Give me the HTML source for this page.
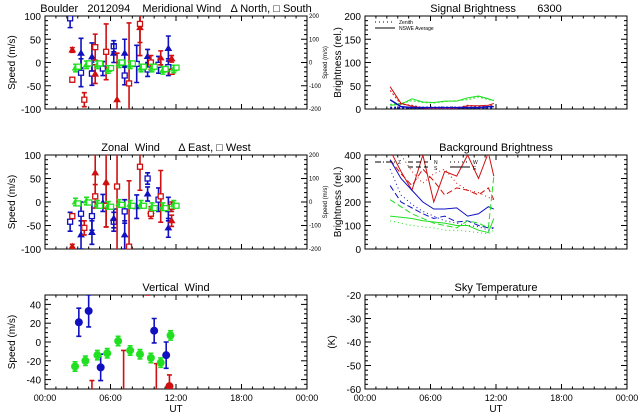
<!DOCTYPE html>
<html><head><meta charset="utf-8">
<style>
html,body{margin:0;padding:0;background:#fff;width:640px;height:420px;overflow:hidden;}
svg{display:block;font-family:"Liberation Sans",sans-serif;}
text{fill:#000;white-space:pre;}
</style></head>
<body>
<svg id="c" width="640" height="420" viewBox="0 0 640 420"></svg>
<script>
// ---------- data ----------
const merBlueT=[2.3,3.3,3.3,4.3,4.3,5.3,6.3,6.3,7.3,7.3,8.4,9.4,9.4,10.4,11.3,11.3];
const merBlueV=[95,20,-22,12,-24,-13,35,20,20,-28,-3,13,-15,-5,30,-10];
const merBlueE=[20,32,30,30,25,15,12,20,30,20,40,15,15,18,27,18];
const merBlueS=['s','t','s','t','s','s','s','t','t','s','s','t','s','s','t','s'];
const merRedT=[2.5,2.5,3.6,4.6,4.6,5.6,6.6,7.7,8.7,8.7,9.7,10.6,11.6,11.6];
const merRedV=[27,-37,-80,33,-25,23,-80,-45,75,83,0,10,8,-20];
const merRedE=[5,5,15,28,20,60,100,130,60,40,15,15,7,5];
const merRedS=['t','s','s','s','t','s','t','s','t','s','s','t','t','s'];
const merGreenT=[2.8,3.8,4.8,5.8,6.8,7.8,8.8,9.8,10.8,11.8];
const merGreenV=[-12,-5,-5,-15,-3,-5,-12,-12,-17,-14];

const zonBlueT=[2.3,3.3,3.3,4.3,4.3,5.3,6.3,6.3,7.3,7.3,8.4,9.4,9.4,10.4,11.3,11.3];
const zonBlueV=[-42,-25,-70,-30,-65,-2,-42,-35,-20,-70,-10,50,17,5,-15,-55];
const zonBlueE=[20,25,30,30,25,18,20,20,25,30,25,12,15,25,25,20];
const zonBlueS=['s','s','t','s','t','t','s','t','s','t','t','s','t','s','s','t'];
const zonRedT=[2.5,2.5,3.6,4.6,4.6,5.6,5.6,6.6,7.7,8.7,9.7,9.7,10.6,11.6,11.6];
const zonRedV=[-95,-30,-55,62,12,42,-8,33,-95,75,-20,-25,12,-40,-10];
const zonRedE=[5,5,15,50,25,95,45,140,140,50,10,10,55,12,10];
const zonRedS=['t','s','s','t','s','t','s','s','s','s','t','s','s','t','s'];
const zonGreenT=[2.8,3.8,4.8,5.8,6.8,7.8,8.8,9.8,10.8,11.8];
const zonGreenV=[0,2,-5,-7,-3,-5,-5,-10,-10,-5];

const vertBlueT=[3.1,4.0,5.1,10.0,11.1];
const vertBlueV=[21,33,-27,12,-14];
const vertBlueE=[15,17,14,13,14];
const vertGreenT=[2.75,3.7,4.8,5.7,6.7,7.8,8.7,9.7,10.6,11.5];
const vertGreenV=[-26,-20,-14,-12,1,-9,-13,-17,-22,7];
const vertRedT=[4.3,7.2,9.4,10.2,11.4];
const vertRedV=[-70,-60,70,-60,-47];
const vertRedE=[29,51,20,37,12];

const sigT=[2.3,3.3,4.3,5.3,6.3,7.3,8.4,9.4,10.4,11.3,11.8];
const sigRed=[48,12,6,2,0,0,1,7,7,8,12];
const sigRed2=[40,10,8,3,1,0,2,8,6,5,10];
const sigGreen=[8,10,22,15,14,17,17,24,28,22,18];
const sigGreen2=[10,12,18,14,13,16,18,20,26,20,19];
const sigBlue=[20,5,3,3,3,3,3,3,3,5,5];
const sigBlue2=[3,3,3,3,3,3,3,3,3,3,3];

const bgT=[2.3,3.3,4.3,5.3,6.3,7.3,8.4,9.4,10.4,11.3,11.8];
const bgRed1=[420,330,250,400,200,330,310,400,300,410,310];
const bgRed2=[380,320,270,340,290,230,260,250,230,260,210];
const bgRed3=[420,400,330,280,320,340,280,250,240,220,210];
const bgBlue1=[380,300,250,200,170,170,175,140,150,180,170];
const bgBlue2=[270,200,175,150,130,140,115,120,100,90,90];
const bgBlue3=[340,230,190,160,140,120,110,100,95,80,90];
const bgGreen1=[140,135,130,120,115,110,100,100,80,70,130];
const bgGreen2=[210,180,150,130,110,100,90,120,110,90,310];
const bgGreen3=[120,110,100,95,90,80,80,75,70,65,80];

// ---------- helpers ----------
const svg=document.getElementById('c');
const NS='http://www.w3.org/2000/svg';
function mk(tag,attrs,parent){const e=document.createElementNS(NS,tag);for(const k in attrs)e.setAttribute(k,attrs[k]);(parent||svg).appendChild(e);return e;}
function txt(x,y,s,size,anchor,parent,rot){const t=mk('text',{x:x,y:y,'font-size':size,'text-anchor':anchor||'middle'},parent);t.setAttributeNS('http://www.w3.org/XML/1998/namespace','xml:space','preserve');if(rot)t.setAttribute('transform','rotate(-90 '+x+' '+y+')');t.textContent=s;return t;}

let clipId=0;
function panel(o){
  const g=mk('g',{});
  
  
  const {x0,x1,y0,y1,ymin,ymax}=o;
  const X=h=>x0+h/24*(x1-x0);
  const Y=v=>y1-(v-ymin)/(ymax-ymin)*(y1-y0);
  const fr=mk('rect',{x:x0,y:y0,width:x1-x0,height:y1-y0,fill:'none',stroke:'#000','stroke-width':1},g);
  
  
  for(let h=0;h<=24;h++){const major=h%6===0;const L=major?5:2.5;
    mk('line',{x1:X(h),x2:X(h),y1:y1,y2:y1-L,stroke:'#000'},g);
    mk('line',{x1:X(h),x2:X(h),y1:y0,y2:y0+L,stroke:'#000'},g);}
  const step=o.ystep;const minor=step/o.yminor;const ys=(o.ystart!==undefined)?o.ystart:ymin;
  let vm=ys;while(vm-minor>=ymin-1e-9)vm-=minor;
  for(let v=vm;v<=ymax+1e-9;v+=minor){const r=(v-ys)/step;const major=Math.abs(r-Math.round(r))<1e-6;const L=major?6:3;
    mk('line',{x1:x0,x2:x0+L,y1:Y(v),y2:Y(v),stroke:'#000'},g);
    mk('line',{x1:x1,x2:x1-L,y1:Y(v),y2:Y(v),stroke:'#000'},g);}
  for(let v=ys;v<=ymax+1e-9;v+=step){const t=txt(x0-4,Y(v)+4,String(Math.round(v)),10,'end',g);
    }
  if(o.xlabels){['00:00','06:00','12:00','18:00','00:00'].forEach((s,i)=>{const t=txt(X(i*6),y1+12,s,9,'middle',g);
    });
    const u=txt((x0+x1)/2,y1+23,'UT',10,'middle',g);}
  const tt=txt(o.titleX||(x0+x1)/2,y0-4,o.title,11,'middle',g);
  
  const yt=txt(x0-(o.ytoff||30),(y0+y1)/2,o.ytitle,10,'middle',g,true);
  
  if(o.right){o.right.forEach((s,i)=>{const t=txt(x1+2,Y(ymax-i*(ymax-ymin)/4)+2,s,6,'start',g);
      });
    const rt=txt(x1+20,(y0+y1)/2,'Speed (m/s)',6,'middle',g,true);
    }
  clipId++;
  const cp=mk('clipPath',{id:'cp'+clipId},g);
  mk('rect',{x:x0,y:y0,width:x1-x0,height:y1-y0},cp);
  const d=mk('g',{'clip-path':'url(#cp'+clipId+')'},g);
  return {X,Y,d,ymin,ymax};
}
function errbar(p,t,v,e,col,name){
  const lo=Math.max(p.ymin,v-e),hi=Math.min(p.ymax,v+e);
  if(lo>hi)return;
  let d=`M${p.X(t)},${p.Y(lo)}V${p.Y(hi)}`;
  if(v-e>=p.ymin)d+=`M${p.X(t)-2.5},${p.Y(lo)}h5`;
  if(v+e<=p.ymax)d+=`M${p.X(t)-2.5},${p.Y(hi)}h5`;
  const l=mk('path',{d:d,stroke:col,'stroke-width':1.6,fill:'none'},p.d);
  
}
function sym(p,t,v,s,col,name){
  if(v<p.ymin||v>p.ymax)return;
  const x=p.X(t),y=p.Y(v);let e;
  if(s==='s')e=mk('rect',{x:x-2.5,y:y-2.5,width:5,height:5,fill:'#fff',stroke:col,'stroke-width':1.3},p.d);
  else if(s==='t')e=mk('path',{d:`M${x},${y-3}L${x+3},${y+2}L${x-3},${y+2}Z`,fill:col,stroke:col},p.d);
  else e=mk('circle',{cx:x,cy:y,r:s,fill:col},p.d);
  
}
function line(p,T,V,col,dash,name,w){
  const d=T.map((t,i)=>(i?'L':'M')+p.X(t)+','+p.Y(V[i])).join('');
  const l=mk('path',{d:d,stroke:col,fill:'none','stroke-width':w||1,'stroke-dasharray':dash||'none'},p.d);
  
}
const B='#1010c0',R='#d01010',G='#20e020';

let p=panel({name:'meridional-wind-panel',x0:45,x1:307,y0:16,y1:109,ymin:-100,ymax:100,ystep:50,yminor:5,
  title:'Boulder   2012094    Meridional Wind   \u0394 North, \u25A1 South',titleX:176,ytitle:'Speed (m/s)',right:['200','100','0','-100','-200']});
merBlueT.forEach((t,i)=>{errbar(p,t,merBlueV[i],merBlueE[i],B,'meridional-blue');sym(p,t,merBlueV[i],merBlueS[i],B,'meridional-blue-point');});
merRedT.forEach((t,i)=>{errbar(p,t,merRedV[i],merRedE[i],R,'meridional-red');sym(p,t,merRedV[i],merRedS[i],R,'meridional-red-point');});
merGreenT.forEach((t,i)=>{errbar(p,t,merGreenV[i],8,G,'meridional-green');sym(p,t,merGreenV[i],'t',G,'meridional-green-point');sym(p,t+0.25,merGreenV[i]+3,'s',G,'meridional-green-point');});

p=panel({name:'zonal-wind-panel',x0:45,x1:307,y0:155,y1:249,ymin:-100,ymax:100,ystep:50,yminor:5,
  title:'Zonal  Wind      \u0394 East, \u25A1 West',ytitle:'Speed (m/s)',right:['200','100','0','-100','-200']});
zonBlueT.forEach((t,i)=>{errbar(p,t,zonBlueV[i],zonBlueE[i],B,'zonal-blue');sym(p,t,zonBlueV[i],zonBlueS[i],B,'zonal-blue-point');});
zonRedT.forEach((t,i)=>{errbar(p,t,zonRedV[i],zonRedE[i],R,'zonal-red');sym(p,t,zonRedV[i],zonRedS[i],R,'zonal-red-point');});
zonGreenT.forEach((t,i)=>{errbar(p,t,zonGreenV[i],8,G,'zonal-green');sym(p,t,zonGreenV[i],'t',G,'zonal-green-point');sym(p,t+0.25,zonGreenV[i]-3,'s',G,'zonal-green-point');});

p=panel({name:'vertical-wind-panel',x0:45,x1:307,y0:295,y1:389,ymin:-50,ymax:50,ystart:-40,ystep:20,yminor:4,
  title:'Vertical  Wind',ytitle:'Speed (m/s)',xlabels:true});
vertRedT.forEach((t,i)=>{errbar(p,t,vertRedV[i],vertRedE[i],R,'vertical-red');sym(p,t,vertRedV[i],4,R,'vertical-red-point');});
vertBlueT.forEach((t,i)=>{errbar(p,t,vertBlueV[i],vertBlueE[i],B,'vertical-blue');sym(p,t,vertBlueV[i],4,B,'vertical-blue-point');});
vertGreenT.forEach((t,i)=>{errbar(p,t,vertGreenV[i],5,G,'vertical-green');sym(p,t,vertGreenV[i],4,G,'vertical-green-point');});

p=panel({name:'signal-brightness-panel',x0:365,x1:627,y0:16,y1:109,ymin:0,ymax:200,ystep:50,yminor:5,
  title:'Signal Brightness       6300',ytitle:'Brightness (rel.)',ytoff:24});
line(p,sigT,sigGreen,G,null,'signal-green-line');line(p,sigT,sigGreen2,G,'2,2','signal-green-zenith');
line(p,sigT,sigRed,R,null,'signal-red-line');line(p,sigT,sigRed2,R,'2,2','signal-red-zenith');
line(p,sigT,sigBlue,B,null,'signal-blue-line',1.5);line(p,sigT,sigBlue2,B,'2,2','signal-blue-zenith',2);
let lg=mk('g',{});
mk('line',{x1:375,x2:395,y1:22,y2:22,stroke:'#000','stroke-dasharray':'1,3'},lg);
mk('line',{x1:375,x2:395,y1:28,y2:28,stroke:'#000'},lg);
txt(399,24,'Zenith',5,'start',lg);txt(399,30,'NSWE Average',5,'start',lg);

p=panel({name:'background-brightness-panel',x0:365,x1:627,y0:155,y1:249,ymin:0,ymax:400,ystep:100,yminor:5,
  title:'Background Brightness',ytitle:'Brightness (rel.)',ytoff:24});
line(p,bgT,bgRed1,R,null,'bg-red-1');line(p,bgT,bgRed2,R,'6,3','bg-red-2');line(p,bgT,bgRed3,R,'1,3','bg-red-3');
line(p,bgT,bgBlue1,B,null,'bg-blue-1');line(p,bgT,bgBlue2,B,'6,3','bg-blue-2');line(p,bgT,bgBlue3,B,'1,3','bg-blue-3');
line(p,bgT,bgGreen1,G,null,'bg-green-1');line(p,bgT,bgGreen2,G,'6,3','bg-green-2');line(p,bgT,bgGreen3,G,'1,3','bg-green-3');
lg=mk('g',{});
mk('line',{x1:375,x2:395,y1:162,y2:162,stroke:'#000','stroke-dasharray':'6,2,1,2'},lg);txt(398,164,'Z',5,'start',lg);
mk('line',{x1:408,x2:428,y1:162,y2:162,stroke:'#000','stroke-dasharray':'5,3'},lg);txt(434,164,'N',5,'start',lg);
mk('line',{x1:408,x2:428,y1:167,y2:167,stroke:'#000','stroke-dasharray':'5,3'},lg);txt(434,170,'S',5,'start',lg);
mk('line',{x1:450,x2:470,y1:162,y2:162,stroke:'#000','stroke-dasharray':'1,3'},lg);txt(473,164,'W',5,'start',lg);
mk('line',{x1:450,x2:470,y1:167,y2:167,stroke:'#000'},lg);txt(473,170,'E',5,'start',lg);

p=panel({name:'sky-temperature-panel',x0:365,x1:627,y0:295,y1:389,ymin:-60,ymax:-20,ystep:10,yminor:5,
  title:'Sky Temperature',ytitle:'(K)',xlabels:true});
</script>
</body></html>
